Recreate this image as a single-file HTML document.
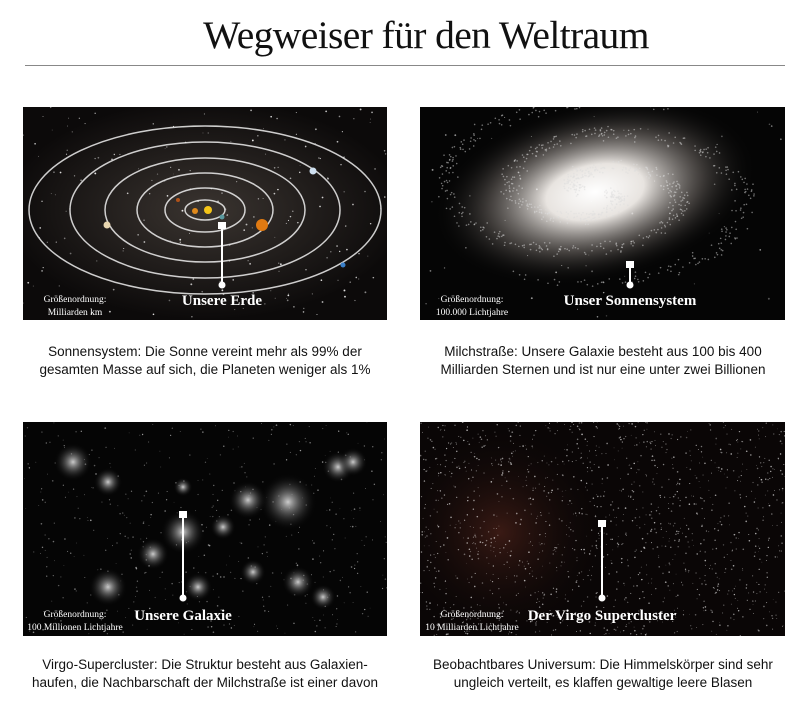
<!DOCTYPE html>
<html><head><meta charset="utf-8"><style>
body{margin:0;width:808px;height:709px;background:#fff;position:relative;overflow:hidden;font-family:"Liberation Sans",sans-serif}
h1{position:absolute;top:12px;left:22px;width:808px;margin:0;text-align:center;font:400 39.5px "Liberation Serif",serif;color:#111;letter-spacing:-0.6px}
.rule{position:absolute;left:25px;top:65px;width:760px;height:1px;background:#888}
.cap{position:absolute;width:400px;text-align:center;font-size:13.5px;line-height:18px;color:#111;white-space:nowrap}
svg{position:absolute}
</style></head><body>
<h1>Wegweiser für den Weltraum</h1>
<div class="rule"></div>

<svg id="p1" style="left:23px;top:107px" width="364" height="213"></svg>
<svg id="p2" style="left:420px;top:107px" width="365" height="213"></svg>
<svg id="p3" style="left:23px;top:422px" width="364" height="214"></svg>
<svg id="p4" style="left:420px;top:422px" width="365" height="214"></svg>

<div class="cap" style="left:5px;top:343px">Sonnensystem: Die Sonne vereint mehr als 99% der<br>gesamten Masse auf sich, die Planeten weniger als 1%</div>
<div class="cap" style="left:403px;top:343px">Milchstraße: Unsere Galaxie besteht aus 100 bis 400<br>Milliarden Sternen und ist nur eine unter zwei Billionen</div>
<div class="cap" style="left:5px;top:656px">Virgo-Supercluster: Die Struktur besteht aus Galaxien-<br>haufen, die Nachbarschaft der Milchstraße ist einer davon</div>
<div class="cap" style="left:403px;top:656px">Beobachtbares Universum: Die Himmelskörper sind sehr<br>ungleich verteilt, es klaffen gewaltige leere Blasen</div>

<script>
var NS="http://www.w3.org/2000/svg";
var seed=7;function r(){seed=(seed*16807)%2147483647;return seed/2147483647;}
function el(s,t,a,txt){var e=document.createElementNS(NS,t);for(var k in a)e.setAttribute(k,a[k]);if(txt)e.textContent=txt;s.appendChild(e);return e;}
function base(id,bg){var s=document.getElementById(id);el(s,"rect",{width:"100%",height:"100%",fill:bg});return s;}
function stars(s,n,w,h,op,rr){for(var i=0;i<n;i++)el(s,"circle",{cx:r()*w,cy:r()*h,r:(rr||0.8)*(0.5+r()*0.7),fill:"#fff",opacity:op*(0.4+r()*0.6)});}
function label(s,x,top,bot,txt,l1,l2,fs){
 el(s,"line",{x1:x,y1:top,x2:x,y2:bot,stroke:"#fff","stroke-width":2});
 el(s,"rect",{x:x-4,y:top-4,width:8,height:7,fill:"#fff"});
 el(s,"circle",{cx:x,cy:bot,r:3.5,fill:"#fff"});
 el(s,"text",{x:x,y:198,"text-anchor":"middle",fill:"#fff","font-family":"Liberation Serif,serif","font-weight":"bold","font-size":fs||"15"},txt);
 el(s,"text",{x:52,y:195,"text-anchor":"middle",fill:"#fff","font-family":"Liberation Serif,serif","font-size":"9.5"},l1);
 el(s,"text",{x:52,y:208,"text-anchor":"middle",fill:"#fff","font-family":"Liberation Serif,serif","font-size":"9.5"},l2);
}
// panel 1
var s=base("p1","#0c0a0a");
var d=el(s,"defs",{});var g=el(d,"radialGradient",{id:"g1"});el(g,"stop",{offset:"0","stop-color":"#3a3430"});el(g,"stop",{offset:"1","stop-color":"#0c0a0a"});
el(s,"ellipse",{cx:182,cy:103,rx:200,ry:110,fill:"url(#g1)"});
stars(s,200,364,213,0.9);
[[176,84],[135,68],[100,52],[68,37],[40,22],[20,10]].forEach(function(o){el(s,"ellipse",{cx:182,cy:103,rx:o[0],ry:o[1],fill:"none",stroke:"#eee","stroke-width":1.5,opacity:0.85});});
el(s,"circle",{cx:185,cy:103,r:4,fill:"#f5c518"});el(s,"circle",{cx:172,cy:104,r:3,fill:"#e08a1c"});
el(s,"circle",{cx:155,cy:93,r:2,fill:"#b0521a"});el(s,"circle",{cx:239,cy:118,r:6,fill:"#e07a12"});
el(s,"circle",{cx:290,cy:64,r:3.5,fill:"#cfe0f0"});el(s,"circle",{cx:320,cy:158,r:2.5,fill:"#3a7fc8"});
el(s,"circle",{cx:84,cy:118,r:3.5,fill:"#e8d6b0"});el(s,"circle",{cx:199,cy:110,r:2.5,fill:"#5a9aa0"});
label(s,199,119,178,"Unsere Erde","Größenordnung:","Milliarden km");
// panel 2
s=base("p2","#050505");d=el(s,"defs",{});
g=el(d,"radialGradient",{id:"g2"});el(g,"stop",{offset:"0","stop-color":"#fff"});el(g,"stop",{offset:"0.3","stop-color":"#e8e4e0"});el(g,"stop",{offset:"0.65","stop-color":"#6a6460","stop-opacity":"0.6"});el(g,"stop",{offset:"1","stop-color":"#000","stop-opacity":"0"});
el(s,"ellipse",{cx:175,cy:85,rx:165,ry:90,fill:"url(#g2)",transform:"rotate(-12 175 85)"});
for(var i=0;i<900;i++){var t=r()*9,arm=i%2?0:Math.PI,rad=12+t*16,a=t*0.9+arm+(r()-.5)*0.8;el(s,"circle",{cx:175+Math.cos(a)*rad*1.2+(r()-.5)*10,cy:85+Math.sin(a)*rad*0.6+(r()-.5)*8,r:0.8,fill:"#ddd",opacity:0.5});}
stars(s,60,365,213,0.6);
label(s,210,158,178,"Unser Sonnensystem","Größenordnung:","100.000 Lichtjahre");
// panel 3
s=base("p3","#050505");d=el(s,"defs",{});
g=el(d,"radialGradient",{id:"g3"});el(g,"stop",{offset:"0","stop-color":"#ccc"});el(g,"stop",{offset:"1","stop-color":"#000","stop-opacity":"0"});
stars(s,500,364,214,0.6,0.7);
[[265,80,18],[225,78,12],[160,110,14],[130,132,10],[50,40,12],[85,60,9],[315,45,10],[330,40,9],[275,160,10],[85,165,12],[175,165,9],[300,175,8],[200,105,8],[230,150,8],[160,65,6]].forEach(function(c){el(s,"circle",{cx:c[0],cy:c[1],r:c[2]*1.6,fill:"url(#g3)"});});
label(s,160,93,176,"Unsere Galaxie","Größenordnung:","100  Millionen Lichtjahre");
// panel 4
s=base("p4","#0a0606");d=el(s,"defs",{});
g=el(d,"radialGradient",{id:"g4"});el(g,"stop",{offset:"0","stop-color":"#3a1a14"});el(g,"stop",{offset:"1","stop-color":"#0a0606","stop-opacity":"0"});
el(s,"ellipse",{cx:80,cy:110,rx:110,ry:110,fill:"url(#g4)"});
stars(s,1400,365,214,0.7,0.7);
label(s,182,102,176,"Der Virgo Supercluster","Größenordnung:","10  Milliarden Lichtjahre");
</script>
</body></html>
